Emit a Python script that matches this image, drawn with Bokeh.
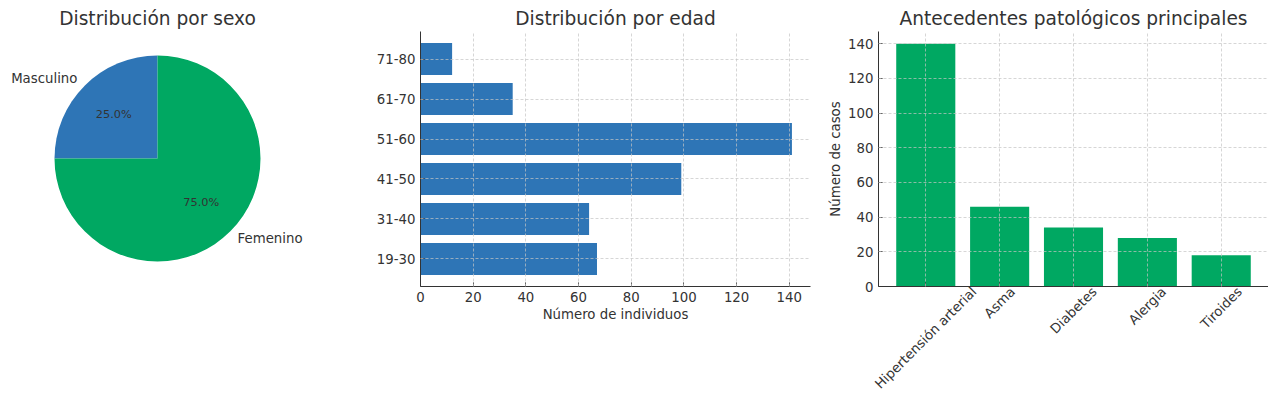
import math
from bokeh.plotting import figure
from bokeh.layouts import row
from bokeh.models import Range1d, FixedTicker, LinearAxis
from bokeh.core.properties import value
from bokeh.embed import file_html
from bokeh.resources import INLINE

# ---------------- data ----------------
sex_labels = ["Masculino", "Femenino"]
sex_values = [25, 75]

age_groups = ["19-30", "31-40", "41-50", "51-60", "61-70", "71-80"]
age_counts = [67, 64, 99, 141, 35, 12]

conditions = ["Hipertensión arterial", "Asma", "Diabetes", "Alergia", "Tiroides"]
condition_cases = [140, 46, 34, 28, 18]

# ---------------- style ----------------
FONT = "DejaVu Sans"
TXT = "#333333"
BLUE = "#2E75B6"
GREEN = "#00A862"
TICK_FS = "13.3px"
TITLE_FS = "18.6px"
H = 403
TOP = 31
BOTTOM = H - 286


def style_title(p):
    p.title.text_font = FONT
    p.title.text_font_size = TITLE_FS
    p.title.text_font_style = "normal"
    p.title.text_color = TXT
    p.title.align = "center"
    p.title.standoff = 6


def style_axis(ax):
    ax.axis_line_color = TXT
    ax.axis_line_width = 1
    ax.major_tick_line_color = TXT
    ax.major_tick_in = 4
    ax.major_tick_out = 0
    ax.minor_tick_line_color = None
    ax.major_label_text_font = FONT
    ax.major_label_text_font_size = TICK_FS
    ax.major_label_text_color = TXT
    ax.axis_label_text_font = FONT
    ax.axis_label_text_font_size = TICK_FS
    ax.axis_label_text_font_style = "normal"
    ax.axis_label_text_color = TXT
    ax.major_label_standoff = 5
    ax.axis_label_standoff = 2


def style_axes(p):
    p.outline_line_color = None
    for ax in p.axis:
        style_axis(ax)
    for g in p.grid:
        g.grid_line_color = "#c4c4c4"
        g.grid_line_alpha = 0.7
        g.grid_line_dash = "3 2"
        g.grid_line_width = 1
        g.level = "guide"


# ---------------- pie ----------------
R_PX = 103.0
p1 = figure(width=348, height=H, title="Distribución por sexo",
            x_range=Range1d(-157 / R_PX, 157 / R_PX),
            y_range=Range1d(-128 / R_PX, 127 / R_PX),
            output_backend="svg", toolbar_location=None,
            min_border_left=0, min_border_right=34,
            min_border_top=TOP, min_border_bottom=BOTTOM)
style_title(p1)
p1.axis.visible = False
p1.grid.visible = False
p1.outline_line_color = None

total = float(sum(sex_values))
start = math.pi / 2
starts, ends = [], []
for v in sex_values:
    end = start + 2 * math.pi * v / total
    starts.append(start)
    ends.append(end)
    start = end
p1.wedge(x=0, y=0, radius=1, start_angle=starts, end_angle=ends,
         direction="anticlock", fill_color=[BLUE, GREEN], line_color=None)

for lab, v, a0, a1 in zip(sex_labels, sex_values, starts, ends):
    mid = (a0 + a1) / 2
    lx, ly = 1.1 * math.cos(mid), 1.1 * math.sin(mid)
    p1.text(x=[lx], y=[ly], text=[lab], text_align="right" if lx < 0 else "left",
            text_baseline="middle", text_font=value(FONT),
            text_font_size=TICK_FS, text_color=TXT)
    px, py = 0.6 * math.cos(mid), 0.6 * math.sin(mid)
    p1.text(x=[px], y=[py], text=["%.1f%%" % (100 * v / total)], text_align="center",
            text_baseline="middle", text_font=value(FONT),
            text_font_size="11.3px", text_color=TXT)

# ---------------- age bars ----------------
age_pos = list(range(len(age_groups)))
p2 = figure(width=472, height=H, title="Distribución por edad",
            x_range=Range1d(0, max(age_counts) * 1.05),
            y_range=Range1d(-0.69, len(age_groups) - 1 + 0.69),
            output_backend="svg", toolbar_location=None,
            min_border_left=72, min_border_right=10,
            min_border_top=TOP, min_border_bottom=BOTTOM)
style_title(p2)
p2.hbar(y=age_pos, left=0, right=age_counts, height=0.8,
        fill_color=BLUE, line_color=None)
p2.xaxis.ticker = FixedTicker(ticks=list(range(0, 141, 20)))
p2.yaxis.ticker = FixedTicker(ticks=age_pos)
p2.yaxis.major_label_overrides = {i: g for i, g in zip(age_pos, age_groups)}
p2.xaxis.axis_label = "Número de individuos"
style_axes(p2)

# ---------------- conditions bars ----------------
cond_pos = list(range(len(conditions)))
X0, X1 = -0.64, len(conditions) - 1 + 0.64
P3_W, P3_LEFT = 448, 58
p3 = figure(width=P3_W, height=H, title="Antecedentes patológicos principales",
            x_range=Range1d(X0, X1),
            y_range=Range1d(0, max(condition_cases) * 1.05),
            output_backend="svg", toolbar_location=None,
            min_border_left=P3_LEFT, min_border_right=0,
            min_border_top=TOP, min_border_bottom=BOTTOM)
style_title(p3)
p3.vbar(x=cond_pos, bottom=0, top=condition_cases, width=0.8,
        fill_color=GREEN, line_color=None)
p3.yaxis.ticker = FixedTicker(ticks=list(range(0, 141, 20)))
p3.xaxis.ticker = FixedTicker(ticks=cond_pos)
p3.yaxis.axis_label = "Número de casos"
style_axes(p3)
p3.xaxis.major_label_overrides = {i: "" for i in cond_pos}
p3.xaxis.major_label_standoff = 0

# second (label-only) axis: rotated category names, placed so each rotated
# label is centred under its tick the way matplotlib centres it
CW = {"H": .752, "i": .278, "p": .635, "e": .615, "r": .411, "t": .392, "n": .634,
      "s": .521, "ó": .612, " ": .318, "a": .613, "l": .278, "A": .684, "m": .974,
      "D": .770, "b": .635, "T": .611, "o": .612, "d": .635, "g": .635}
fs = 13.3
scale = (P3_W - P3_LEFT) / (X1 - X0)
c45 = math.cos(math.pi / 4)
widths = [sum(CW.get(c, .6) for c in s) * fs for s in conditions]
lab_ticks = [round(xp + (w * c45 / 2) / scale, 3) for xp, w in zip(cond_pos, widths)]
lab_axis = LinearAxis(ticker=FixedTicker(ticks=lab_ticks),
                      major_label_overrides={t: s for t, s in zip(lab_ticks, conditions)},
                      major_label_orientation=math.pi / 4)
style_axis(lab_axis)
lab_axis.axis_line_color = None
lab_axis.major_tick_line_color = None
lab_axis.major_label_standoff = 3
p3.add_layout(lab_axis, "below")

layout = row(p1, p2, p3)
open("out.html", "w").write(file_html(layout, INLINE))
